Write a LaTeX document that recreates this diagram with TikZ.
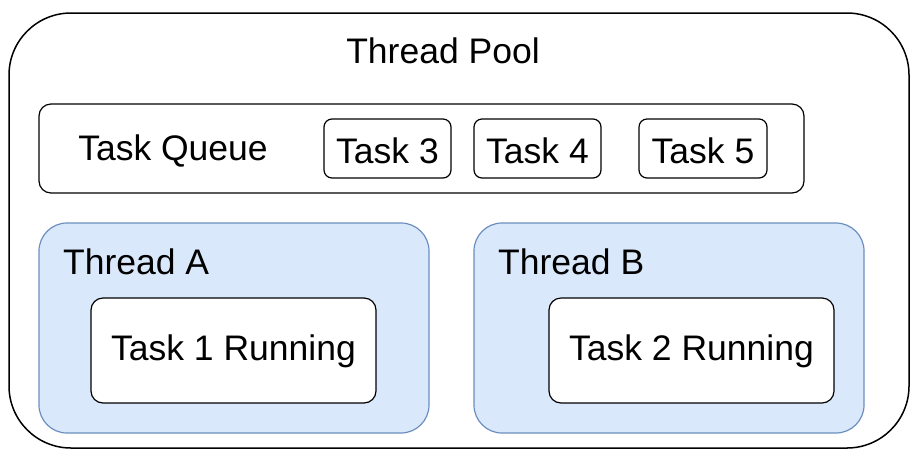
\documentclass[tikz,border=0pt]{standalone}
\usepackage{fontspec}
\setmainfont{Liberation Sans}
\definecolor{thfill}{HTML}{DAE8FC}
\definecolor{thdraw}{HTML}{6C8EBF}
\tikzset{
  lbl/.style={font=\fontsize{35.5}{42}\selectfont, inner sep=0pt, anchor=center},
  poolbox/.style={draw=black, line width=1.5pt, fill=white, rounded corners=62pt},
  queuebox/.style={draw=black, line width=1.2pt, fill=white, rounded corners=12pt},
  taskbox/.style={draw=black, line width=1.2pt, fill=white, rounded corners=8pt},
  threadbox/.style={draw=thdraw, line width=1.2pt, fill=thfill, rounded corners=28pt},
  runbox/.style={draw=black, line width=1.2pt, fill=white, rounded corners=12pt},
}
\begin{document}
\begin{tikzpicture}[x=1pt,y=-1pt]
\useasboundingbox[fill=white] (0,0) rectangle (920,459);
% outer pool
\draw[poolbox] (9,13) rectangle (909,448);
\node[lbl] (pool) at (443,51) {Thread Pool};
% queue
\draw[queuebox] (39,104) rectangle (804,193);
\node[lbl] (queue) at (173,150.5) {Task Queue};
\draw[taskbox] (324,119) rectangle (451,178);
\node[lbl] (t3) at (387.5,150.5) {Task 3};
\draw[taskbox] (474,119) rectangle (601,178);
\node[lbl] (t4) at (537.5,150.5) {Task 4};
\draw[taskbox] (639,119) rectangle (767,178);
\node[lbl] (t5) at (703,150.5) {Task 5};
% threads
\draw[threadbox] (39,223) rectangle (429,433);
\node[lbl, anchor=west] (tha) at (63,262) {Thread A};
\draw[runbox] (91,298) rectangle (376,403);
\node[lbl] (r1) at (233.5,351.5) {Task 1 Running};
\draw[threadbox] (474,223) rectangle (864,433);
\node[lbl, anchor=west] (thb) at (498,262) {Thread B};
\draw[runbox] (549,298) rectangle (834,403);
\node[lbl] (r2) at (691.5,351.5) {Task 2 Running};
\end{tikzpicture}
\end{document}
